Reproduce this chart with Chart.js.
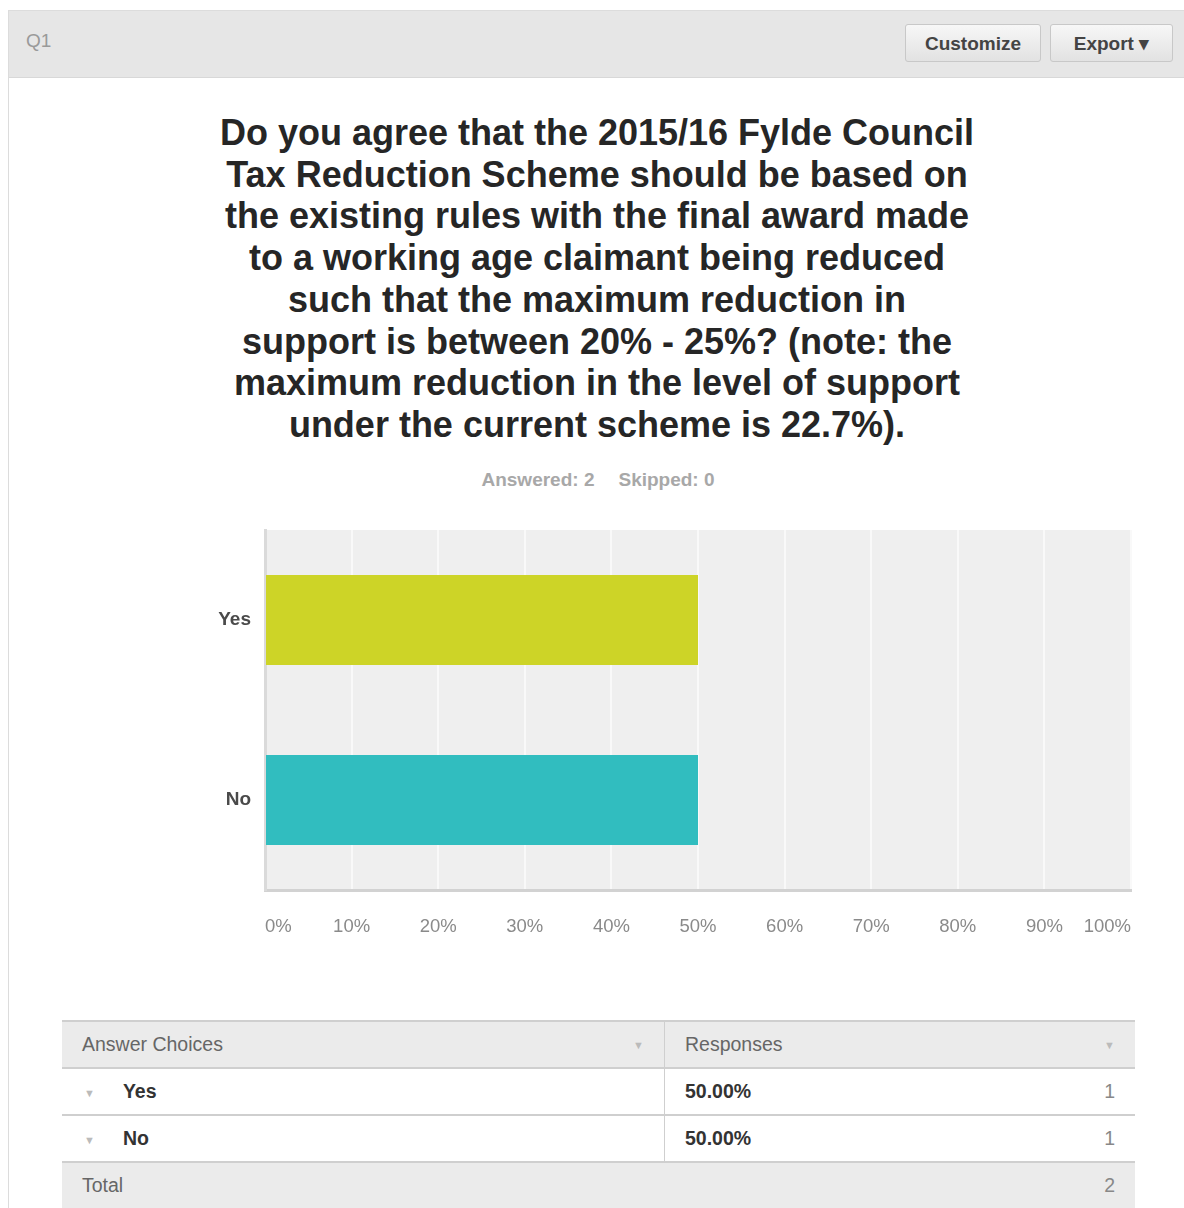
<!DOCTYPE html>
<html lang="en">
<head>
<meta charset="UTF-8">
<title>Q1</title>
<script src="https://cdn.jsdelivr.net/npm/chart.js"></script>
<style>
  body { margin: 0; background: #fff; font-family: "Liberation Sans", Arial, sans-serif; }
  #page { position: relative; width: 1184px; height: 1208px; overflow: hidden; }
  #panel { position: absolute; left: 8px; top: 10px; width: 1180px; height: 1210px; border: 1px solid #dcdcdc; }
  #head { position: absolute; left: 0; top: 0; right: 0; height: 66px; background: #e6e6e6; border-bottom: 1px solid #d8d8d8; }
  #q { position: absolute; left: 17px; top: 19px; font-size: 19px; color: #9a9a9a; }
  .btn { position: absolute; top: 13px; height: 38px; line-height: 38px; text-align: center; font-size: 19px; font-weight: bold; color: #444;
         background: linear-gradient(#f7f7f7, #e2e2e2); border: 1px solid #c8c8c8; border-radius: 3px; box-sizing: border-box; }
  #title { position: absolute; left: 100px; width: 994px; top: 112px; text-align: center; font-weight: bold;
           font-size: 36px; line-height: 41.7px; color: #262626; }
  #stats { position: absolute; left: 0; width: 1196px; top: 469px; text-align: center; font-size: 19px; font-weight: bold; color: #a8a8a8; }
  #stats span { margin: 0 12px; }
  #chartBox { position: absolute; left: 150px; top: 510px; width: 1007px; height: 450px; }
  table { position: absolute; left: 62px; top: 1020px; width: 1073px; border-collapse: collapse; font-size: 19.5px; }
  td { border-top: 2px solid #cfcfcf; border-bottom: 2px solid #cfcfcf; padding: 0 20px; height: 45px; }
  tr.grey td { background: #ebebeb; color: #666; }
  tr.row td { color: #333; font-weight: bold; }
  .sep { border-right: 1px solid #cfcfcf; }
  .arr { color: #bbb; font-size: 11px; font-weight: normal; vertical-align: middle; }
</style>
</head>
<body>
<div id="page">
  <div id="panel">
    <div id="head">
      <div id="q">Q1</div>
      <div class="btn" style="left:896px;width:136px;">Customize</div>
      <div class="btn" style="left:1041px;width:123px;">Export &#9662;</div>
    </div>
  </div>
  <div id="title">Do you agree that the 2015/16 Fylde Council<br>Tax Reduction Scheme should be based on<br>the existing rules with the final award made<br>to a working age claimant being reduced<br>such that the maximum reduction in<br>support is between 20% - 25%? (note: the<br>maximum reduction in the level of support<br>under the current scheme is 22.7%).</div>
  <div id="stats"><span>Answered: 2</span><span>Skipped: 0</span></div>
  <div id="chartBox"><canvas id="chart"></canvas></div>
  <table id="tbl"></table>
</div>
<script>
const categories = ['Yes', 'No'];
const percents = [50, 50];
const counts = [1, 1];
const barColors = ['#cdd427', '#31bdbf'];
const tickValues = [0, 10, 20, 30, 40, 50, 60, 70, 80, 90, 100];

// table built from the same arrays
const tbl = document.getElementById('tbl');
let html = '<tr class="grey"><td class="sep">Answer Choices<span class="arr" style="float:right;margin-top:6px">&#9660;</span></td>' +
           '<td>Responses<span class="arr" style="float:right;margin-top:6px">&#9660;</span></td></tr>';
categories.forEach((c, i) => {
  html += `<tr class="row"><td class="sep" style="width:562px"><span class="arr" style="margin-right:28px;margin-left:2px">&#9660;</span>${c}</td>` +
          `<td>${percents[i].toFixed(2)}%<span style="float:right;font-weight:normal;color:#888">${counts[i]}</span></td></tr>`;
});
html += `<tr class="grey"><td colspan="2">Total<span style="float:right;color:#888">${counts.reduce((a, b) => a + b, 0)}</span></td></tr>`;
tbl.innerHTML = html;

const bgPlugin = {
  id: 'bg',
  beforeDraw(chart) {
    const a = chart.chartArea, ctx = chart.ctx;
    ctx.save();
    ctx.fillStyle = '#efefef';
    ctx.fillRect(a.left, a.top, a.right - a.left, a.bottom - a.top);
    ctx.restore();
  }
};

new Chart(document.getElementById('chart'), {
  type: 'bar',
  data: {
    labels: categories,
    datasets: [{
      data: percents,
      backgroundColor: barColors,
      borderWidth: 0,
      barPercentage: 0.5,
      categoryPercentage: 1
    }]
  },
  options: {
    indexAxis: 'y',
    responsive: true,
    maintainAspectRatio: false,
    animation: false,
    layout: { padding: { top: 20, right: 16, left: 0, bottom: 0 } },
    plugins: { legend: { display: false }, tooltip: { enabled: false } },
    scales: {
      x: {
        min: 0, max: 100,
        afterBuildTicks(scale) { scale.ticks = tickValues.map(v => ({ value: v })); },
        afterFit(scale) { scale.height = 70; },
        grid: { color: '#f9f9f9', lineWidth: 2, drawTicks: false },
        border: { color: '#d2d2d2', width: 3 },
        ticks: {
          align: 'inner',
          padding: 26,
          color: '#8a8a8a',
          font: { family: 'Liberation Sans Narrow, Liberation Sans, Arial', size: 18.5 },
          callback: v => v + '%'
        }
      },
      y: {
        afterFit(scale) { scale.width = 115; },
        grid: { display: false },
        border: { color: '#dadada', width: 3 },
        ticks: {
          padding: 6,
          color: '#4a4a4a',
          font: { family: 'Liberation Sans, Arial', size: 19, weight: 'bold' }
        }
      }
    }
  },
  plugins: [bgPlugin]
});
</script>
</body>
</html>
